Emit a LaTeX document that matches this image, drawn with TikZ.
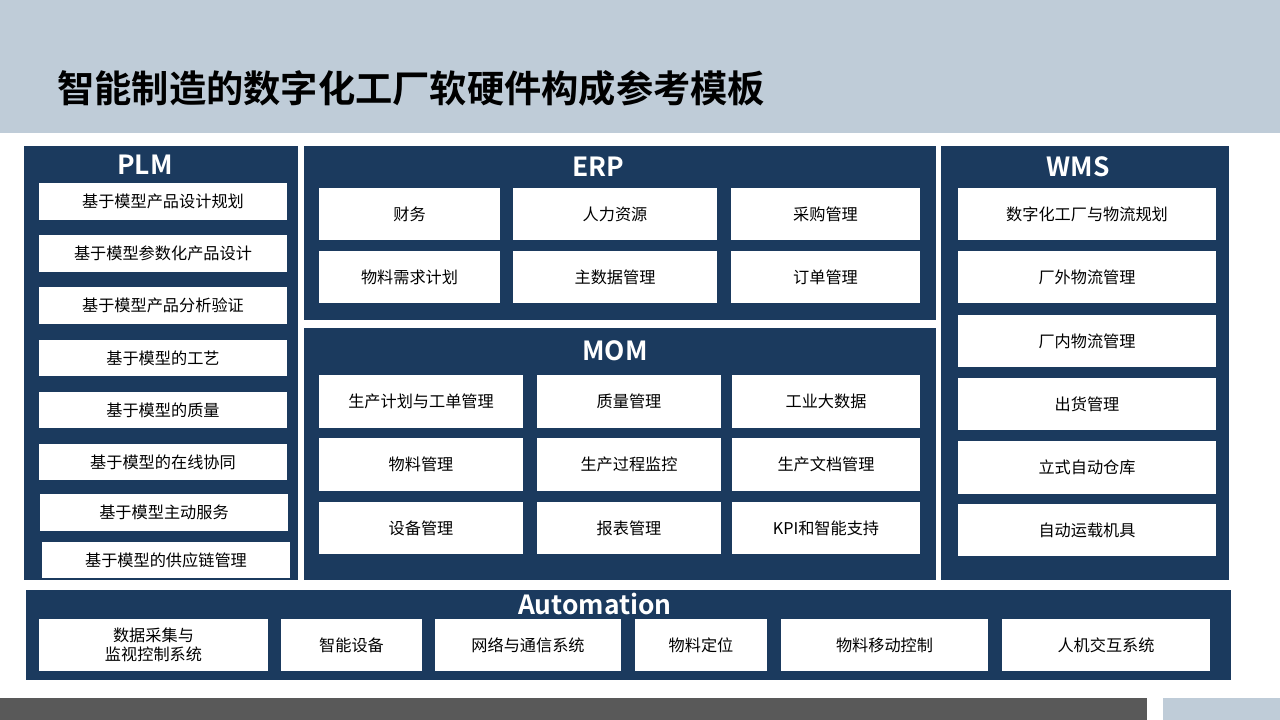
\documentclass[tikz,border=0pt]{standalone}
\usepackage{fontspec}
\setmainfont{Noto Sans CJK SC}[BoldFont={Noto Sans CJK SC Bold}]
\usetikzlibrary{fit}
\definecolor{navy}{HTML}{1B3A5E}
\definecolor{banner}{HTML}{BFCCD8}
\definecolor{footgray}{HTML}{595959}

\begin{document}
\begin{tikzpicture}[x=0.2mm, y=-0.2mm,
    panel/.style={fill=navy, inner sep=0pt},
    cell/.style={fill=white, inner sep=0pt},
    every label/.style={inner sep=0pt, align=center, font=\fontsize{9.2}{10.5}\selectfont},
    head/.style={text=white, font=\bfseries\fontsize{15}{18}\selectfont}]
    \useasboundingbox (0,0) rectangle (1280,720);

    % banner and footer
    \fill[banner] (0,0) rectangle (1280,133);
    \node[anchor=west, inner sep=0pt, font=\bfseries\fontsize{21.2}{25}\selectfont] (title) at (57,88) {智能制造的数字化工厂软硬件构成参考模板};
    \fill[footgray] (0,698) rectangle (1147,720);
    \fill[banner] (1163,698) rectangle (1280,720);

    % panels
    \node[panel, fit={(24,146) (298,580)}] (plm) {};
    \node[panel, fit={(304,146) (936,320)}] (erp) {};
    \node[panel, fit={(304,328) (936,580)}] (mom) {};
    \node[panel, fit={(941,146) (1229,580)}] (wms) {};
    \node[panel, fit={(26,590) (1231,680)}] (auto) {};

    \node[head] (plmhead) at (145,165) {PLM};
    \node[head] (erphead) at (598,167) {ERP};
    \node[head] (momhead) at (615,351) {MOM};
    \node[head] (wmshead) at (1078,167) {WMS};
    \node[head] (autohead) at (595,604) {Automation};

    % PLM
    \node[cell, fit={(39,183) (287,220)}, label=center:基于模型产品设计规划] (plm1) {};
    \node[cell, fit={(39,235) (287,272)}, label=center:基于模型参数化产品设计] (plm2) {};
    \node[cell, fit={(39,287) (287,324)}, label=center:基于模型产品分析验证] (plm3) {};
    \node[cell, fit={(39,340) (287,376)}, label=center:基于模型的工艺] (plm4) {};
    \node[cell, fit={(39,392) (287,428)}, label=center:基于模型的质量] (plm5) {};
    \node[cell, fit={(39,444) (287,480)}, label=center:基于模型的在线协同] (plm6) {};
    \node[cell, fit={(40,494) (288,531)}, label=center:基于模型主动服务] (plm7) {};
    \node[cell, fit={(42,542) (290,578)}, label=center:基于模型的供应链管理] (plm8) {};

    % ERP
    \node[cell, fit={(319,188) (500,240)}, label=center:财务] (erp1) {};
    \node[cell, fit={(513,188) (717,240)}, label=center:人力资源] (erp2) {};
    \node[cell, fit={(731,188) (920,240)}, label=center:采购管理] (erp3) {};
    \node[cell, fit={(319,251) (500,303)}, label=center:物料需求计划] (erp4) {};
    \node[cell, fit={(513,251) (717,303)}, label=center:主数据管理] (erp5) {};
    \node[cell, fit={(731,251) (920,303)}, label=center:订单管理] (erp6) {};

    % MOM
    \node[cell, fit={(319,375) (523,428)}, label=center:生产计划与工单管理] (mom1) {};
    \node[cell, fit={(537,375) (721,428)}, label=center:质量管理] (mom2) {};
    \node[cell, fit={(732,375) (920,428)}, label=center:工业大数据] (mom3) {};
    \node[cell, fit={(319,438) (523,491)}, label=center:物料管理] (mom4) {};
    \node[cell, fit={(537,438) (721,491)}, label=center:生产过程监控] (mom5) {};
    \node[cell, fit={(732,438) (920,491)}, label=center:生产文档管理] (mom6) {};
    \node[cell, fit={(319,502) (523,554)}, label=center:设备管理] (mom7) {};
    \node[cell, fit={(537,502) (721,554)}, label=center:报表管理] (mom8) {};
    \node[cell, fit={(732,502) (920,554)}, label=center:KPI和智能支持] (mom9) {};

    % WMS
    \node[cell, fit={(958,188) (1216,240)}, label=center:数字化工厂与物流规划] (wms1) {};
    \node[cell, fit={(958,251) (1216,303)}, label=center:厂外物流管理] (wms2) {};
    \node[cell, fit={(958,315) (1216,367)}, label=center:厂内物流管理] (wms3) {};
    \node[cell, fit={(958,378) (1216,430)}, label=center:出货管理] (wms4) {};
    \node[cell, fit={(958,441) (1216,494)}, label=center:立式自动仓库] (wms5) {};
    \node[cell, fit={(958,504) (1216,556)}, label=center:自动运载机具] (wms6) {};

    % Automation
    \node[cell, fit={(39,619) (268,671)}, label=center:{数据采集与\\监视控制系统}] (auto1) {};
    \node[cell, fit={(281,619) (422,671)}, label=center:智能设备] (auto2) {};
    \node[cell, fit={(435,619) (621,671)}, label=center:网络与通信系统] (auto3) {};
    \node[cell, fit={(635,619) (767,671)}, label=center:物料定位] (auto4) {};
    \node[cell, fit={(781,619) (988,671)}, label=center:物料移动控制] (auto5) {};
    \node[cell, fit={(1002,619) (1210,671)}, label=center:人机交互系统] (auto6) {};
\end{tikzpicture}
\end{document}
